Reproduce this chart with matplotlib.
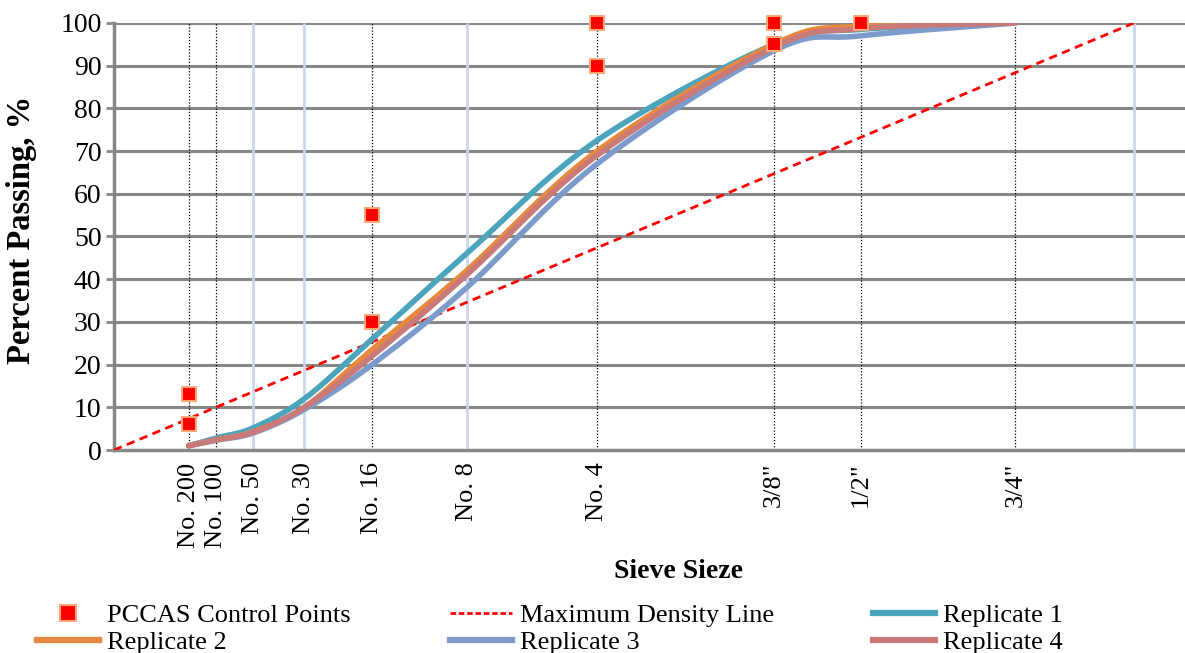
import numpy as np
import matplotlib
matplotlib.use("Agg")
import matplotlib.pyplot as plt
from matplotlib.lines import Line2D

# ---------------- data ----------------
sieve_labels = ["No. 200", "No. 100", "No. 50", "No. 30", "No. 16", "No. 8",
                "No. 4", "3/8\"", "1/2\"", "3/4\""]
sieve_mm = [0.075, 0.15, 0.3, 0.6, 1.18, 2.36, 4.75, 9.5, 12.5, 19.0]
power = 0.45

rep1 = [1.0, 2.8, 5.2, 12.0, 26.0, 46.0, 72.5, 95.0, 98.5, 100.0]
rep2 = [1.0, 2.4, 4.3, 10.0, 23.5, 42.0, 70.0, 95.0, 99.3, 100.0]
rep3 = [1.0, 2.3, 4.0, 9.5, 20.0, 38.0, 67.0, 93.5, 97.0, 100.0]
rep4 = [1.0, 2.4, 4.2, 10.0, 22.0, 41.0, 69.0, 94.3, 98.7, 100.0]

ctrl_mm = [0.075, 0.075, 1.18, 1.18, 4.75, 4.75, 9.5, 9.5, 12.5]
ctrl_pct = [6, 13, 30, 55, 90, 100, 95, 100, 100]

maxd_mm = [0.0, 25.0]
maxd_pct = [0, 100]

dotted_grid_mm = [0.075, 0.15, 1.18, 4.75, 9.5, 12.5, 19.0]
blue_grid_mm = [0.3, 0.6, 2.36, 25.0]

# ---------------- helpers ----------------
def tx(v):
    return np.asarray(v, dtype=float) ** power

def smooth(xs, ys, n=40):
    xs = np.asarray(xs, float); ys = np.asarray(ys, float)
    P = np.column_stack([xs, ys])
    out = [P[0]]
    for i in range(len(P) - 1):
        p0 = P[i - 1] if i > 0 else P[i]
        p1 = P[i]; p2 = P[i + 1]
        p3 = P[i + 2] if i + 2 < len(P) else P[i + 1]
        c1 = p1 + (p2 - p0) / 6.0
        c2 = p2 - (p3 - p1) / 6.0
        t = np.linspace(0, 1, n)[1:, None]
        seg = ((1 - t) ** 3) * p1 + 3 * ((1 - t) ** 2) * t * c1 + 3 * (1 - t) * t ** 2 * c2 + t ** 3 * p2
        out.extend(seg)
    out = np.array(out)
    return out[:, 0], out[:, 1]

# ---------------- figure ----------------
plt.rcParams['font.family'] = ['Liberation Serif', 'DejaVu Serif']
fig = plt.figure(figsize=(11.85, 6.53), dpi=100)
ax = fig.add_axes([114 / 1185, 1 - 450 / 653, 1 - 114 / 1185, (450 - 23) / 653])

xmax = (1185 - 114) / 239.6
ax.set_xlim(0, xmax)
ax.set_ylim(0, 100)

# horizontal grid
for yv in range(10, 101, 10):
    ax.axhline(yv, color='#878787', lw=2.2, zorder=1)

# vertical grid lines
ax.vlines(tx(dotted_grid_mm), 0, 100, colors='black', linestyles=(0, (1, 1.5)), lw=0.9, zorder=1)
ax.vlines(tx(blue_grid_mm), 0, 100, colors='#C9D7EE', lw=2.0, zorder=1)

# series
ax.plot(tx(maxd_mm), maxd_pct, color='#FF0000', lw=2.0, ls=(0, (3, 2)), zorder=3)

colors = ['#4BA4BC', '#E8883E', '#7C9BCA', '#C97A78']
for vals, c in zip([rep1, rep2, rep3, rep4], colors):
    sx, sy = smooth(tx(sieve_mm), vals)
    ax.plot(sx, sy, color=c, lw=4.0, solid_capstyle='round', zorder=4)

ax.scatter(tx(ctrl_mm), ctrl_pct, marker='s', s=115, color='#FF0000',
           edgecolors='#F7A77A', linewidths=1.5, zorder=6, clip_on=False)

# axes styling
for s in ['top', 'right']:
    ax.spines[s].set_visible(False)
ax.spines['left'].set_color('#878787'); ax.spines['left'].set_linewidth(2.5)
ax.spines['bottom'].set_color('#878787'); ax.spines['bottom'].set_linewidth(2.5)

ax.set_yticks(range(0, 101, 10))
ax.tick_params(axis='y', length=6, width=2, color='#878787', labelsize=20, pad=3)
ax.set_xticks(tx(sieve_mm))
ax.set_xticklabels(sieve_labels, rotation=90, fontsize=19)
ax.tick_params(axis='x', length=0, pad=9)

ax.set_ylabel('Percent Passing, %', fontsize=23.5, fontweight='bold')
ax.yaxis.set_label_coords(-77 / 1071, 0.516)
fig.text(678 / 1185, 1 - 572 / 653, 'Sieve Sieze', fontsize=20,
         fontweight='bold', ha='center', va='center')

# legend
h_ctrl = Line2D([], [], marker='s', ls='none', markersize=11, markerfacecolor='#FF0000',
                markeredgecolor='#F7A77A', markeredgewidth=1.5)
h_max = Line2D([], [], color='#FF0000', lw=2.0, ls=(0, (2, 1)))
hr = [Line2D([], [], color=c, lw=4.5) for c in colors]
handles = [h_ctrl, hr[1], h_max, hr[2], hr[0], hr[3]]
labels = ['PCCAS Control Points', 'Replicate 2', 'Maximum Density Line', 'Replicate 3',
          'Replicate 1', 'Replicate 4']
fig.legend(handles, labels, ncol=3, loc='center', bbox_to_anchor=(550 / 1185, 1 - 629 / 653),
           frameon=False, fontsize=19, handlelength=2.35, handletextpad=0.3,
           columnspacing=3.75, labelspacing=0.15, borderpad=0)

fig.savefig('out.png', dpi=100)
